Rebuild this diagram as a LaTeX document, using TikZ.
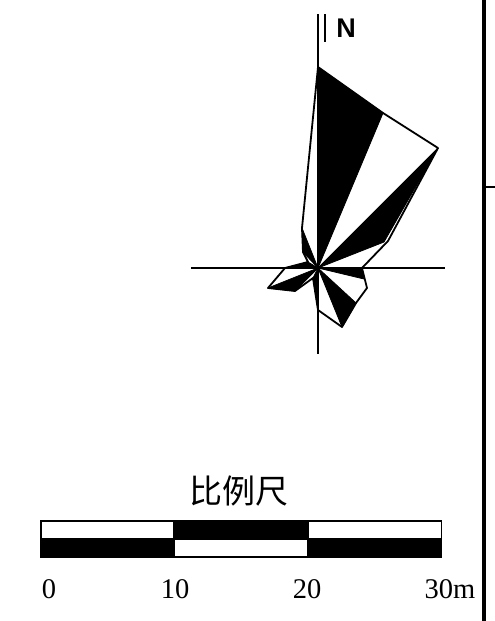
\documentclass[tikz,border=0pt]{standalone}
\usepackage{fontspec}
\setmainfont{Liberation Serif}
\newfontfamily\cjk{Noto Sans CJK SC}
\newfontfamily\arialb{Liberation Sans}[Scale=1]
\tikzset{
  px/.style={x=1pt,y=-1pt},
  rosefill/.style={fill=black,draw=black,line width=0.8pt,line join=round},
  rosewhite/.style={fill=white,draw=black,line width=1.8pt,line join=round},
  axisline/.style={draw=black,line width=2pt},
  scalebox/.style={draw=black,line width=1.3pt},
  numlabel/.style={inner sep=0pt,anchor=base,font=\fontsize{28.5}{29}\selectfont},
}
\begin{document}
\begin{tikzpicture}[px]
\useasboundingbox (0,0) rectangle (495,621);
\fill[white] (0,0) rectangle (495,621);
\coordinate (c) at (318,268);
% frame at right
\draw[black,line width=4pt] (484,0) -- (484,621);
\draw[black,line width=1.4pt] (484,187) -- (495,187);
% rose outline (white body)
\draw[rosewhite] (318,67) -- (383,113) -- (438,148) -- (388,241) -- (362,268) -- (367,288) -- (356,303) -- (342,327) -- (318,310) -- (313,278) -- (295,291) -- (268,288) -- (285,268) -- (308,262) -- (303,252) -- (302,228) -- cycle;
% black petals
\fill[rosefill] (c) -- (318,67) -- (383,113) -- cycle;
\fill[rosefill] (c) -- (438,148) -- (384,242) -- cycle;
\fill[rosefill] (c) -- (362,268) -- (364,279) -- cycle;
\fill[rosefill] (c) -- (356,303) -- (342,327) -- cycle;
\fill[rosefill] (c) -- (318,310) -- (313,278) -- cycle;
\fill[rosefill] (c) -- (295,291) -- (268,288) -- cycle;
\fill[rosefill] (c) -- (285,268) -- (308,262) -- cycle;
\fill[rosefill] (c) -- (302,228) -- (303,252) -- cycle;
% axes
\coordinate (nTop) at (318,14); \coordinate (sEnd) at (318,354);
\coordinate (wEnd) at (191,268); \coordinate (eEnd) at (445,268);
\draw[axisline] (nTop) -- (sEnd);
\draw[axisline] (wEnd) -- (eEnd);
\draw[axisline] (325,14) -- (325,42);
\node[inner sep=0pt,anchor=base,font=\arialb\bfseries\fontsize{27}{27}\selectfont] (north) at (346,37) {N};
% scale bar
\draw[scalebox,fill=white] (41,521) rectangle (174,539);
\draw[scalebox,fill=black] (174,521) rectangle (308,539);
\draw[scalebox,fill=white] (308,521) rectangle (441.5,539);
\draw[scalebox,fill=black] (41,539) rectangle (174,557);
\draw[scalebox,fill=white] (174,539) rectangle (308,557);
\draw[scalebox,fill=black] (308,539) rectangle (441.5,557);
% labels
\node[inner sep=0pt,font=\cjk\fontsize{33}{33}\selectfont] (title) at (239,491) {比例尺};
\node[numlabel] (n0) at (49,598) {0};
\node[numlabel] (n10) at (175,598) {10};
\node[numlabel] (n20) at (307,598) {20};
\node[numlabel] (n30) at (450,598) {30m};
\end{tikzpicture}
\end{document}
